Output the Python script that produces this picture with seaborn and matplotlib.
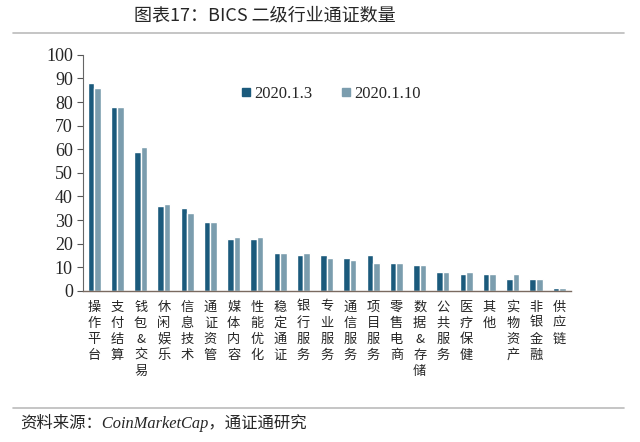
import matplotlib
matplotlib.use("Agg")
import matplotlib.pyplot as plt
import seaborn as sns
import pandas as pd
from matplotlib.lines import Line2D

categories = ["操作平台", "支付结算", "钱包&交易", "休闲娱乐", "信息技术", "通证资管", "媒体内容",
              "性能优化", "稳定通证", "银行服务", "专业服务", "通信服务", "项目服务", "零售电商",
              "数据&存储", "公共服务", "医疗保健", "其他", "实物资产", "非银金融", "供应链"]
s_0103 = [88, 78, 59, 36, 35, 29, 22, 22, 16, 15, 15, 14, 15, 12, 11, 8, 7, 7, 5, 5, 1]
s_0110 = [86, 78, 61, 37, 33, 29, 23, 23, 16, 16, 14, 13, 12, 12, 11, 8, 8, 7, 7, 5, 1]
series_names = ["2020.1.3", "2020.1.10"]
colors = ["#1b5a7c", "#7b9dae"]
yticks = list(range(0, 101, 10))

sns.set_theme(style="white")
plt.rcParams['font.family'] = ['Noto Sans CJK SC', 'DejaVu Sans']

df = pd.DataFrame({
    "cat": categories * 2,
    "val": s_0103 + s_0110,
    "series": [series_names[0]] * len(categories) + [series_names[1]] * len(categories),
})

fig = plt.figure(figsize=(6.4, 4.42), dpi=100)
ax = fig.add_axes([0.129, 0.342, 0.763, 0.534])
sns.barplot(data=df, x="cat", y="val", hue="series", palette=colors, width=0.56,
            ax=ax, legend=False, saturation=1, errorbar=None, order=categories,
            hue_order=series_names)

ax.set_ylim(0, 100)
ax.set_xlim(-0.5, 20.5)
ax.set_yticks(yticks)
ax.set_yticklabels([str(t) for t in yticks], family=['Liberation Serif'], fontsize=13)
ax.set_xticks(range(len(categories)))
ax.set_xticklabels(["\n".join(list(c)) for c in categories], fontsize=9.5,
                   linespacing=1.3, va='top')
ax.tick_params(axis='x', length=0, pad=7)
ax.tick_params(axis='y', length=4, width=0.8, color='#555555', direction='out', pad=3, left=True)
ax.set_xlabel("")
ax.set_ylabel("")
for s in ["top", "right"]:
    ax.spines[s].set_visible(False)
ax.spines["left"].set_color("#666666")
ax.spines["left"].set_linewidth(0.8)
ax.spines["bottom"].set_color("#7a6a60")
ax.spines["bottom"].set_linewidth(1.0)

handles = [Line2D([0], [0], marker='s', linestyle='none', markersize=6,
                  markerfacecolor=c, markeredgecolor=c) for c in colors]
leg = ax.legend(handles, series_names, loc='upper left', bbox_to_anchor=(0.29, 0.93),
                ncol=2, frameon=False, prop={'family': 'Liberation Serif', 'size': 12},
                handletextpad=0.1, columnspacing=1.6, handlelength=0.8)

fig.text(0.414, 0.964, "图表17：BICS 二级行业通证数量", ha='center', va='center',
         fontsize=13, family=['Noto Sans CJK SC', 'DejaVu Sans'])
fig.add_artist(Line2D([0.02, 0.975], [0.925, 0.925], color='#bbbbbb', linewidth=1.2,
                      transform=fig.transFigure))
fig.add_artist(Line2D([0.02, 0.975], [0.077, 0.077], color='#bbbbbb', linewidth=1.2,
                      transform=fig.transFigure))
fig.text(0.031, 0.042, "资料来源：CoinMarketCap，通证通研究", ha='left', va='center',
         fontsize=11.8, style='italic', family=['Liberation Serif', 'Noto Sans CJK SC'])

fig.savefig("out.png", dpi=100)
